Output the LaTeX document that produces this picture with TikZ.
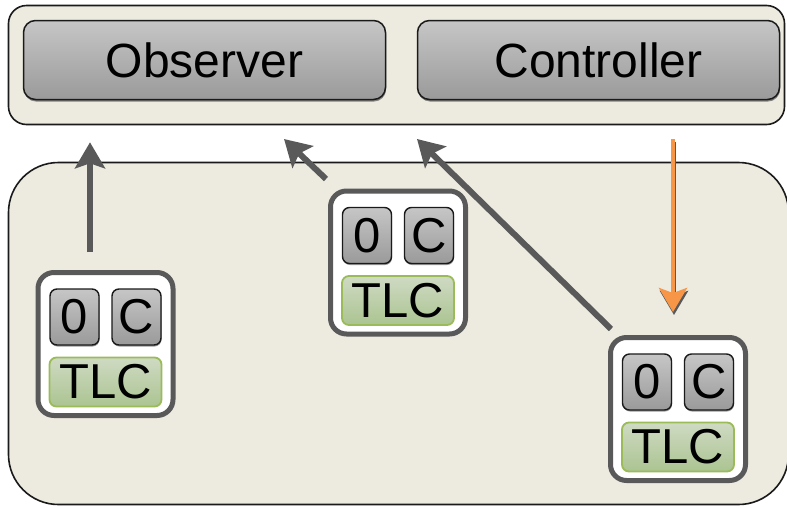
\documentclass[tikz,border=0pt]{standalone}
\usepackage{fontspec}
\setsansfont{Liberation Sans}
\usepackage{tikz}
\usetikzlibrary{arrows.meta, positioning, calc, shadows}
\definecolor{paper}{HTML}{EDEAE0}
\definecolor{frameink}{HTML}{1A1A1A}
\definecolor{slate}{HTML}{595959}
\definecolor{btntop}{HTML}{C6C6C6}
\definecolor{btnbot}{HTML}{9A9A9A}
\definecolor{leaftop}{HTML}{CFDAC3}
\definecolor{leafbot}{HTML}{ABC491}
\definecolor{leafline}{HTML}{9BBB59}
\definecolor{ctrlorange}{HTML}{F79646}
\tikzset{
  bigfont/.style={font=\sffamily\fontsize{#1}{#1}\selectfont},
  bigfont/.default=49,
  frame/.style={
    draw=frameink, fill=paper, line width=1.6pt,
    rounded corners=#1, inner sep=0pt
  },
  frame/.default=18pt,
  panel/.style={
    draw=frameink, line width=1.5pt, rounded corners=12pt,
    top color=btntop, bottom color=btnbot, inner sep=0pt,
    minimum width=362pt, minimum height=79pt, bigfont=48,
    drop shadow={shadow xshift=0.5pt, shadow yshift=-2pt, opacity=.45, fill=black}
  },
  unit/.style={
    draw=slate, fill=white, line width=5pt, rounded corners=16pt,
    minimum width=135pt, minimum height=143pt, inner sep=0pt
  },
  key/.style={
    draw=frameink, line width=1.4pt, rounded corners=7pt,
    top color=btntop, bottom color=btnbot, inner sep=0pt,
    minimum width=49pt, minimum height=56pt, bigfont,
    drop shadow={shadow xshift=0.5pt, shadow yshift=-1.5pt, opacity=.4, fill=black}
  },
  tlc/.style={
    draw=leafline, line width=1.8pt, rounded corners=7pt,
    top color=leaftop, bottom color=leafbot, inner sep=0pt,
    minimum width=112pt, minimum height=49pt, bigfont
  },
  report/.style={draw=slate, line width=6pt,
    -{Stealth[length=26pt, width=30pt, inset=5pt]}},
  command/.style={draw=ctrlorange, line width=4.5pt,
    -{Stealth[length=24pt, width=28pt, inset=5pt]}}
}

\begin{document}
\begin{tikzpicture}[x=1pt, y=1pt]
  \useasboundingbox (0,0) rectangle (787,-507);

  % supervisory layer
  \node[frame, minimum width=776pt, minimum height=119pt] (top) at (396.5,-65) {};
  \node[panel] (obs) at (204.5,-60) {Observer};
  \node[panel] (ctl) at (598.5,-60) {Controller};

  % field of intersections
  \node[frame=50pt, minimum width=780pt, minimum height=342pt] (field) at (398.5,-333.5) {};

  \foreach \u/\cx/\cy in {u1/105.5/-344, u2/398/-262.5, u3/678/-409} {
    \node[unit] (\u) at (\cx,\cy) {};
    \node[key] (\u-zero) at ([shift={(-31,27)}]\u.center) {0};
    \node[key] (\u-clear) at ([shift={(31,27)}]\u.center) {C};
    \node[tlc] (\u-tlc) at ([shift={(0,-38)}]\u.center) {TLC};
  }

  % arrow ends
  \coordinate (r1) at ($(u1.north)+(-15.5,18)$);
  \coordinate (o1) at ($(r1 |- top.south)+(0,-17)$);
  \coordinate (r2) at ($(u2.north west)+(-2,9.5)$);
  \coordinate (o2) at ($(r2)+(-42,40)$);
  \coordinate (r3) at ($(u3.north west)+(3,6)$);
  \coordinate (o3) at ($(o2)+(133,0)$);
  \coordinate (c0) at ($(u3.north)+(-5,196)$);
  \coordinate (c1) at ($(u3.north)+(-5,23)$);

  \draw[report] (r1) -- (o1);
  \draw[report] (r2) -- (o2);
  \draw[report] (r3) -- (o3);
  \draw[command, draw=slate, transform canvas={shift={(1pt,-3pt)}}] (c0) -- (c1);
  \draw[command] (c0) -- (c1);
\end{tikzpicture}
\end{document}
